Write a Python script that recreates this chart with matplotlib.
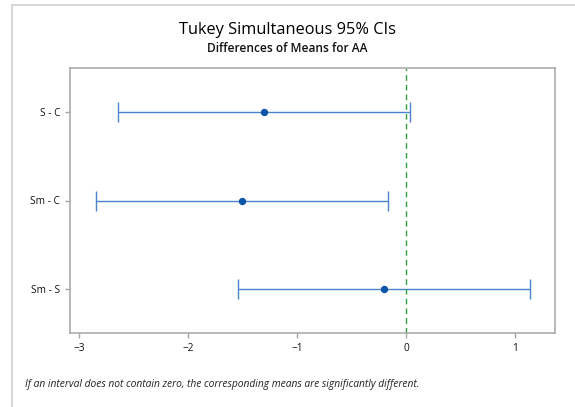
import matplotlib.pyplot as plt
from matplotlib.patches import Rectangle

# -------------------------------------------------------
# Data
# -------------------------------------------------------

pairs = ["S - C", "Sm - C", "Sm - S"]
diff = [-1.307, -1.503, -0.202]
lower = [-2.642, -2.844, -1.540]
upper = [0.037, -0.168, 1.142]

xticks = [-3, -2, -1, 0, 1]

# -------------------------------------------------------
# Plot
# -------------------------------------------------------

plt.rcParams["font.family"] = ["Open Sans", "DejaVu Sans"]

fig = plt.figure(figsize=(5.75, 4.07), dpi=100)
ax = fig.add_axes([70/575, 1-333/407, 485/575, 265/407])

# outer panel border (only top / left visible)
fig.patches.append(Rectangle((12/575, -0.1), 1.2, 1-5/407+0.1,
                             transform=fig.transFigure, fill=False,
                             edgecolor="#d0d0d0", lw=1.2))

ypos = list(range(len(pairs)))
errs = [[d - lo for d, lo in zip(diff, lower)],
        [up - d for d, up in zip(diff, upper)]]

ax.errorbar(diff, ypos, xerr=errs, fmt="none", ecolor="#4a84cc",
            elinewidth=1.0, capsize=7.2, capthick=1.0)
ax.plot(diff, ypos, "o", color="#0b55a8", markersize=4.3)

ax.axvline(0, color="#2ca03c", ls=(0, (4, 3)), lw=1.0)

ax.set_ylim(len(pairs) - 0.5, -0.5)
ax.set_xlim(-3.085, 1.368)
ax.set_yticks(ypos)
ax.set_yticklabels(pairs)
ax.set_xticks(xticks)

for s in ax.spines.values():
    s.set_color("#a6a6a6")
    s.set_linewidth(1.1)
ax.tick_params(colors="#a6a6a6", labelcolor="#111111", labelsize=7.3,
               length=3.5, width=1)

fig.text(0.5, 1-30/407, "Tukey Simultaneous 95% CIs", ha="center",
         va="center", fontsize=11.8, color="#000000")
fig.text(0.5, 1-48/407, "Differences of Means for AA", ha="center",
         va="center", fontsize=8.6, fontweight="semibold", color="#111111")
fig.text(25/575, 1-385/407,
         "If an interval does not contain zero, the corresponding means are significantly different.",
         ha="left", va="center", fontsize=7.4, style="italic", color="#222222")

fig.savefig("out.png", dpi=100)
plt.close()
